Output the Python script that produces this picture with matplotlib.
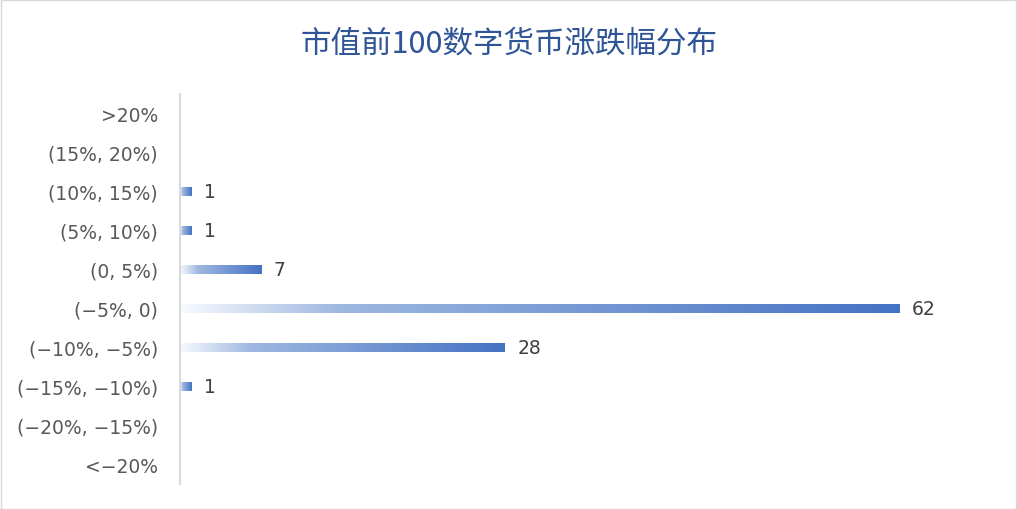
import matplotlib
matplotlib.use("Agg")
import matplotlib.pyplot as plt
import numpy as np
from matplotlib.colors import LinearSegmentedColormap
from matplotlib.patches import Rectangle

title = "市值前100数字货币涨跌幅分布"
categories = [">20%", "(15%, 20%)", "(10%, 15%)", "(5%, 10%)", "(0, 5%)",
              "(−5%, 0)", "(−10%, −5%)", "(−15%, −10%)", "(−20%, −15%)", "<−20%"]
values = [0, 0, 1, 1, 7, 62, 28, 1, 0, 0]

plt.rcParams['font.family'] = ['Noto Sans CJK SC', 'DejaVu Sans']

fig = plt.figure(figsize=(10.17, 5.10), dpi=100)
W, H = 1017, 510
ax = fig.add_axes([180 / W, 1 - 485 / H, (990 - 180) / W, 390 / H])

cmap = LinearSegmentedColormap.from_list(
    "grad", [(0.0, (0.97, 0.98, 0.995)), (0.22, (0.62, 0.72, 0.88)),
             (1.0, (0.267, 0.447, 0.769))])

ypos = np.arange(len(categories))
bars = ax.barh(ypos, values, height=0.23, color='none', edgecolor='none')
grad = np.linspace(0, 1, 256).reshape(1, -1)
for b in bars:
    w = b.get_width()
    if w <= 0:
        continue
    x0, y0, h = b.get_x(), b.get_y(), b.get_height()
    ax.imshow(grad, extent=[x0, x0 + w, y0, y0 + h], aspect='auto',
              cmap=cmap, origin='lower', interpolation='bilinear', zorder=2)

lab_font = ['DejaVu Sans']
for y, v in zip(ypos, values):
    if v > 0:
        ax.annotate(str(v), (v, y), xytext=(9, 0), textcoords='offset points',
                    va='center', ha='left', fontsize=13.5, color='#404040',
                    family=lab_font)

ax.set_xlim(0, 69.8)
ax.set_ylim(9.5, -0.5)
ax.set_yticks(ypos)
ax.set_yticklabels(categories, fontsize=13.5, color='#595959', family=lab_font)
ax.tick_params(axis='y', length=0, pad=16)
ax.set_xticks([])
for s in ['top', 'right', 'bottom']:
    ax.spines[s].set_visible(False)
ax.spines['left'].set_color('#D9D9D9')
ax.spines['left'].set_linewidth(1.5)

fig.text(509 / W, 1 - 44 / H, title, ha='center', va='center',
         fontsize=22, color='#2F5597')

fig.patches.append(Rectangle((0.5 / W, 0.5 / H), 1 - 1.5 / W, 1 - 1.5 / H,
                             transform=fig.transFigure, fill=False,
                             edgecolor='#D9D9D9', linewidth=1))

fig.savefig("out.png", dpi=100)
